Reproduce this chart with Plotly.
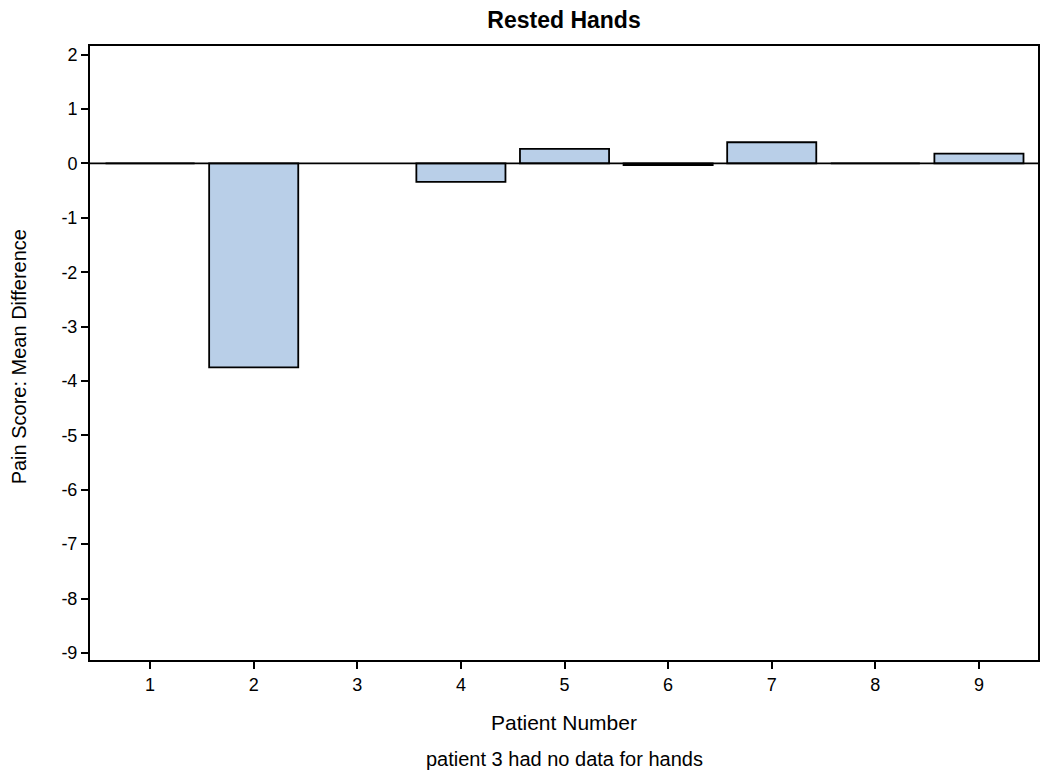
import plotly.graph_objects as go

patients = [1, 2, 3, 4, 5, 6, 7, 8, 9]
mean_diff = [0, -3.75, None, -0.34, 0.27, -0.03, 0.39, 0, 0.18]
y_ticks = [2, 1, 0, -1, -2, -3, -4, -5, -6, -7, -8, -9]
y_tick_labels = [str(v) for v in y_ticks]

font = "Liberation Sans, Arial, sans-serif"

fig = go.Figure()
fig.add_trace(go.Bar(
    x=patients, y=mean_diff, width=0.86,
    marker=dict(color="#B9CFE8", line=dict(color="black", width=1.8)),
    showlegend=False,
))
fig.add_hline(y=0, line=dict(color="black", width=1.8), layer="above")

fig.update_layout(
    width=1034, height=765,
    margin=dict(l=82, r=2, t=38, b=113),
    paper_bgcolor="white", plot_bgcolor="white",
    font=dict(family=font, size=18, color="black"),
    title=dict(text="<b>Rested Hands</b>", x=0.5, xref="paper", xanchor="center",
               y=1 - 12 / 765, yanchor="middle", font=dict(size=23, family=font)),
    xaxis=dict(range=[0.42, 9.57], tickvals=patients, ticks="outside", ticklen=7,
               tickwidth=1.5, tickcolor="black", showline=True, linecolor="black",
               linewidth=2, mirror=True, showgrid=False, zeroline=False,
               tickfont=dict(size=18)),
    yaxis=dict(range=[-9.13, 2.16], tickvals=y_ticks, ticktext=y_tick_labels,
               ticks="outside", ticklen=7,
               tickwidth=1.5, tickcolor="black", showline=True, linecolor="black",
               linewidth=2, mirror=True, showgrid=False, zeroline=False,
               tickfont=dict(size=18)),
    annotations=[
        dict(text="Patient Number", xref="paper", yref="paper",
             x=0.5, y=-0.1026, xanchor="center", yanchor="middle",
             showarrow=False, font=dict(size=21)),
        dict(text="patient 3 had no data for hands", xref="paper", yref="paper",
             x=0.5, y=-0.161, xanchor="center", yanchor="middle",
             showarrow=False, font=dict(size=20)),
        dict(text="Pain Score: Mean Difference", xref="paper", yref="paper",
             x=-0.0745, y=0.4935, xanchor="center", yanchor="middle", textangle=-90,
             showarrow=False, font=dict(size=20)),
    ],
)

fig.write_html("out.html")
